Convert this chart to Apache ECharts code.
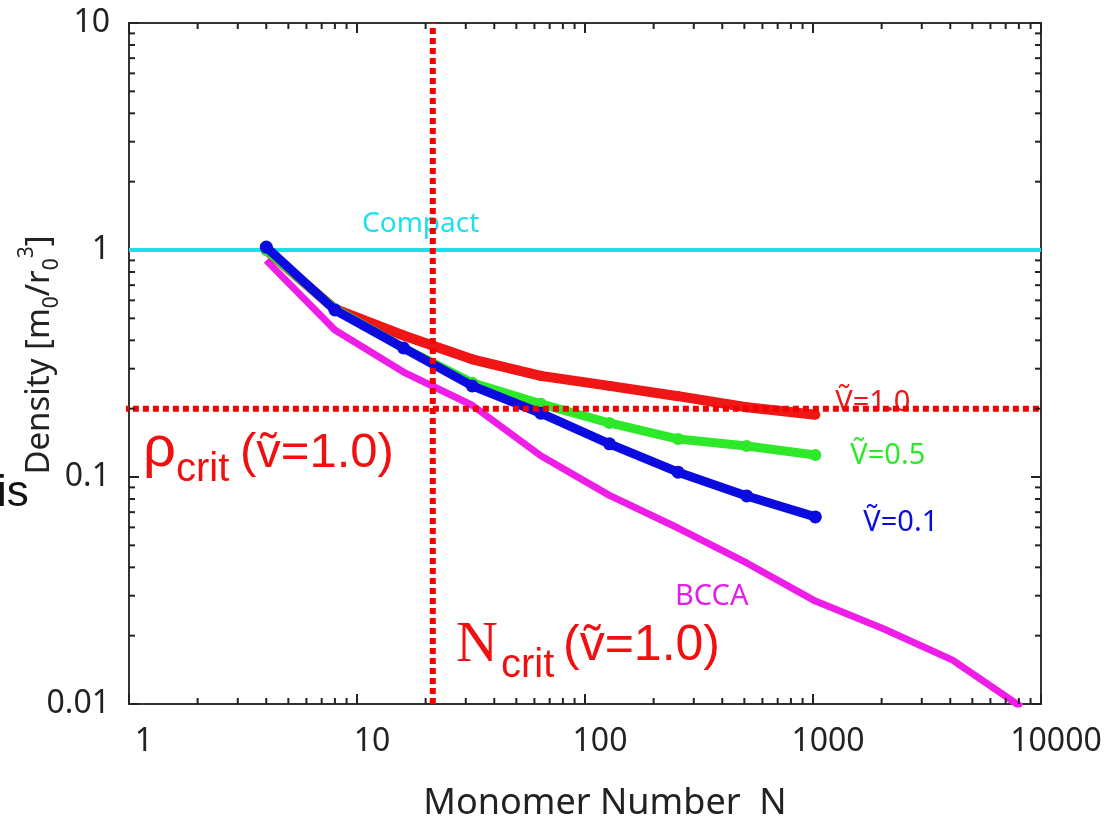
<!DOCTYPE html>
<html>
<head>
<meta charset="utf-8">
<script src="https://cdn.jsdelivr.net/npm/echarts@6/dist/echarts.min.js"></script>
<style>
  html, body { margin: 0; padding: 0; background: #fff; }
  #chart { width: 1105px; height: 822px; }
</style>
</head>
<body>
<div id="chart"></div>
<script>
// monomer numbers of the simulated aggregates
const monomerN = [4, 8, 16, 32, 64, 128, 256, 512, 1024];
const densV10 = [1.0, 0.55, 0.42, 0.33, 0.279, 0.252, 0.227, 0.203, 0.188];
const densV05 = [1.0, 0.55, 0.37, 0.26, 0.21, 0.173, 0.147, 0.137, 0.125];
const densV01 = [1.03, 0.544, 0.37, 0.252, 0.191, 0.14, 0.105, 0.0825, 0.0667];
// BCCA reference curve
const bccaN = [4, 8, 16, 32, 64, 128, 256, 512, 1024, 2048, 4096, 8192];
const bccaDens = [0.9, 0.444, 0.29, 0.207, 0.124, 0.083, 0.0596, 0.0418, 0.0284, 0.0214, 0.0156, 0.0097];
// compact density and critical values for v=1.0
const compactN = [1, 10000];
const compactDens = [1, 1];
const nCrit = 21.5;
const rhoCrit = 0.2;
const xTickLabels = ['1', '10', '100', '1000', '10000'];
const yTickLabels = ['0.01', '0.1', '1', '10'];

const xMin = 1, xMax = 10000, yMin = 0.01, yMax = 10;
const pair = (xs, ys) => xs.map((x, i) => [x, ys[i]]);

// minor ticks 2..9 per decade
const xMinor = [], yMinor = [];
for (let d = 0; d < 4; d++) for (let k = 2; k < 10; k++) xMinor.push(k * Math.pow(10, d));
for (let d = -2; d < 1; d++) for (let k = 2; k < 10; k++) yMinor.push(+(k * Math.pow(10, d)).toPrecision(2));

const axisCol = '#222';
const font = 'Noto Sans';

function tick(x1, y1, x2, y2) {
  return { type: 'line', shape: { x1: x1, y1: y1, x2: x2, y2: y2 }, style: { stroke: axisCol, lineWidth: 2 } };
}
function xMinorTicks(params, api) {
  const v = api.value(0);
  const b = api.coord([v, yMin]);
  const t = api.coord([v, yMax]);
  return { type: 'group', children: [tick(b[0], b[1], b[0], b[1] - 6), tick(t[0], t[1], t[0], t[1] + 6)] };
}
function yMinorTicks(params, api) {
  const v = api.value(1);
  const l = api.coord([xMin, v]);
  const r = api.coord([xMax, v]);
  return { type: 'group', children: [tick(l[0], l[1], l[0] + 6, l[1]), tick(r[0], r[1], r[0] - 6, r[1])] };
}

const fmtLabel = (list) => (v) => {
  const s = list.find(t => Math.abs(Math.log10(+t) - Math.log10(v)) < 1e-6);
  return s || '';
};

const baseAxis = {
  type: 'log',
  logBase: 10,
  axisLine: { show: true, lineStyle: { color: '#333', width: 2 } },
  axisTick: { show: true, inside: true, length: 10, lineStyle: { color: axisCol, width: 2 } },
  splitLine: { show: false },
  minorTick: { show: false }
};

let myChart = echarts.init(document.getElementById('chart'));
let option = {
  animation: false,
  backgroundColor: '#fff',
  grid: { left: 129, right: 64, top: 23, bottom: 118, outerBoundsMode: 'none' },
  xAxis: [
    Object.assign({}, baseAxis, {
      min: xMin, max: xMax, position: 'bottom',
      axisLabel: { fontSize: 32, color: '#222', fontFamily: font, margin: 22, padding: [0, 0, 0, 30], formatter: fmtLabel(xTickLabels) },
      name: 'Monomer Number  N', nameLocation: 'middle', nameGap: 82,
      nameTextStyle: { fontSize: 36, color: '#222', fontFamily: font, padding: [0, 0, 0, 40] }
    }),
    Object.assign({}, baseAxis, { min: xMin, max: xMax, position: 'top', axisLabel: { show: false } })
  ],
  yAxis: [
    Object.assign({}, baseAxis, {
      min: yMin, max: yMax, position: 'left',
      axisLabel: { fontSize: 32, color: '#222', fontFamily: font, margin: 19, formatter: fmtLabel(yTickLabels) }
    }),
    Object.assign({}, baseAxis, { min: yMin, max: yMax, position: 'right', axisLabel: { show: false } })
  ],
  graphic: [
    {
      type: 'text', x: 40, y: 355, rotation: Math.PI / 2,
      style: {
        text: '{a|Density [m}{s|0}{a|/r}{s|0}{p|3}{a|]}',
        align: 'center', verticalAlign: 'middle', fill: '#222',
        rich: {
          a: { fontSize: 33, fontFamily: font, lineHeight: 46, verticalAlign: 'middle', fill: '#222' },
          s: { fontSize: 21, fontFamily: font, lineHeight: 21, verticalAlign: 'bottom', fill: '#222' },
          p: { fontSize: 21, fontFamily: font, lineHeight: 21, verticalAlign: 'top', fill: '#222' }
        }
      }
    },
    { type: 'text', x: -3, y: 494, style: { text: 'is', fontSize: 44, fontFamily: 'Liberation Sans', fill: '#111', verticalAlign: 'middle' } },
    { type: 'text', x: 362, y: 224, style: { text: 'Compact', fontSize: 28, fontFamily: font, fill: '#1fe0ea', verticalAlign: 'middle' } },
    { type: 'text', x: 675, y: 597, style: { text: 'BCCA', fontSize: 29, fontFamily: font, fill: '#e31ee8', verticalAlign: 'middle' } },
    // rho_crit label
    { type: 'text', x: 143, y: 450, style: { text: 'ρ', fontSize: 58, fontFamily: 'Liberation Sans', fill: '#f01010', verticalAlign: 'middle' } },
    { type: 'text', x: 176, y: 470, style: { text: 'crit', fontSize: 40, fontFamily: 'Liberation Sans', fill: '#f01010', verticalAlign: 'middle' } },
    { type: 'text', x: 240, y: 453, style: { text: '(ṽ=1.0)', fontSize: 49, fontFamily: 'Liberation Sans, DejaVu Sans', fill: '#f01010', verticalAlign: 'middle' } },
    // N_crit label
    { type: 'text', x: 456, y: 646, style: { text: 'N', fontSize: 58, fontFamily: 'Liberation Serif', fill: '#f01010', verticalAlign: 'middle' } },
    { type: 'text', x: 501, y: 666, style: { text: 'crit', fontSize: 40, fontFamily: 'Liberation Sans', fill: '#f01010', verticalAlign: 'middle' } },
    { type: 'text', x: 563, y: 646, style: { text: '(ṽ=1.0)', fontSize: 50, fontFamily: 'Liberation Sans, DejaVu Sans', fill: '#f01010', verticalAlign: 'middle' } }
  ],
  series: [
    {
      type: 'custom', silent: true, clip: false, z: 10,
      renderItem: xMinorTicks, encode: { x: 0, y: 1 },
      data: xMinor.map(v => [v, yMin])
    },
    {
      type: 'custom', silent: true, clip: false, z: 10,
      renderItem: yMinorTicks, encode: { x: 0, y: 1 },
      data: yMinor.map(v => [xMin, v])
    },
    {
      name: 'Compact', type: 'line', showSymbol: false, silent: true, z: 2,
      lineStyle: { color: '#1fe0ea', width: 4 },
      data: pair(compactN, compactDens)
    },
    {
      name: 'BCCA', type: 'line', showSymbol: false, silent: true, z: 3,
      lineStyle: { color: '#ee1ee8', width: 7 },
      data: pair(bccaN, bccaDens)
    },
    {
      name: 'v=1.0', type: 'line', symbol: 'circle', symbolSize: 10, z: 3,
      itemStyle: { color: '#f01616' }, lineStyle: { color: '#f01616', width: 10 },
      endLabel: { show: true, formatter: 'Ṽ=1.0', color: '#f01616', fontSize: 29, fontFamily: font, offset: [12, -12] },
      data: pair(monomerN, densV10)
    },
    {
      name: 'v=0.5', type: 'line', symbol: 'circle', symbolSize: 12, z: 4,
      itemStyle: { color: '#2ee82a' }, lineStyle: { color: '#2ee82a', width: 9 },
      endLabel: { show: true, formatter: 'Ṽ=0.5', color: '#2ee82a', fontSize: 29, fontFamily: font, offset: [27, 1] },
      data: pair(monomerN, densV05)
    },
    {
      name: 'v=0.1', type: 'line', symbol: 'circle', symbolSize: 13, z: 5,
      itemStyle: { color: '#0b0be0' }, lineStyle: { color: '#0b0be0', width: 9 },
      endLabel: { show: true, formatter: 'Ṽ=0.1', color: '#0b0be0', fontSize: 29, fontFamily: font, offset: [40, 6] },
      data: pair(monomerN, densV01)
    },
    {
      name: 'N crit', type: 'line', showSymbol: false, silent: true, clip: false, z: 8,
      lineStyle: { color: '#f50000', width: 6, type: [6, 4] },
      data: [[nCrit, yMin], [nCrit, yMax]]
    },
    {
      name: 'rho crit', type: 'line', showSymbol: false, silent: true, clip: false, z: 8,
      lineStyle: { color: '#f50000', width: 6, type: [6, 4] },
      data: [[0.94, rhoCrit], [xMax, rhoCrit]]
    }
  ]
};
myChart.setOption(option);
window.addEventListener('resize', () => myChart.resize());
</script>
</body>
</html>
